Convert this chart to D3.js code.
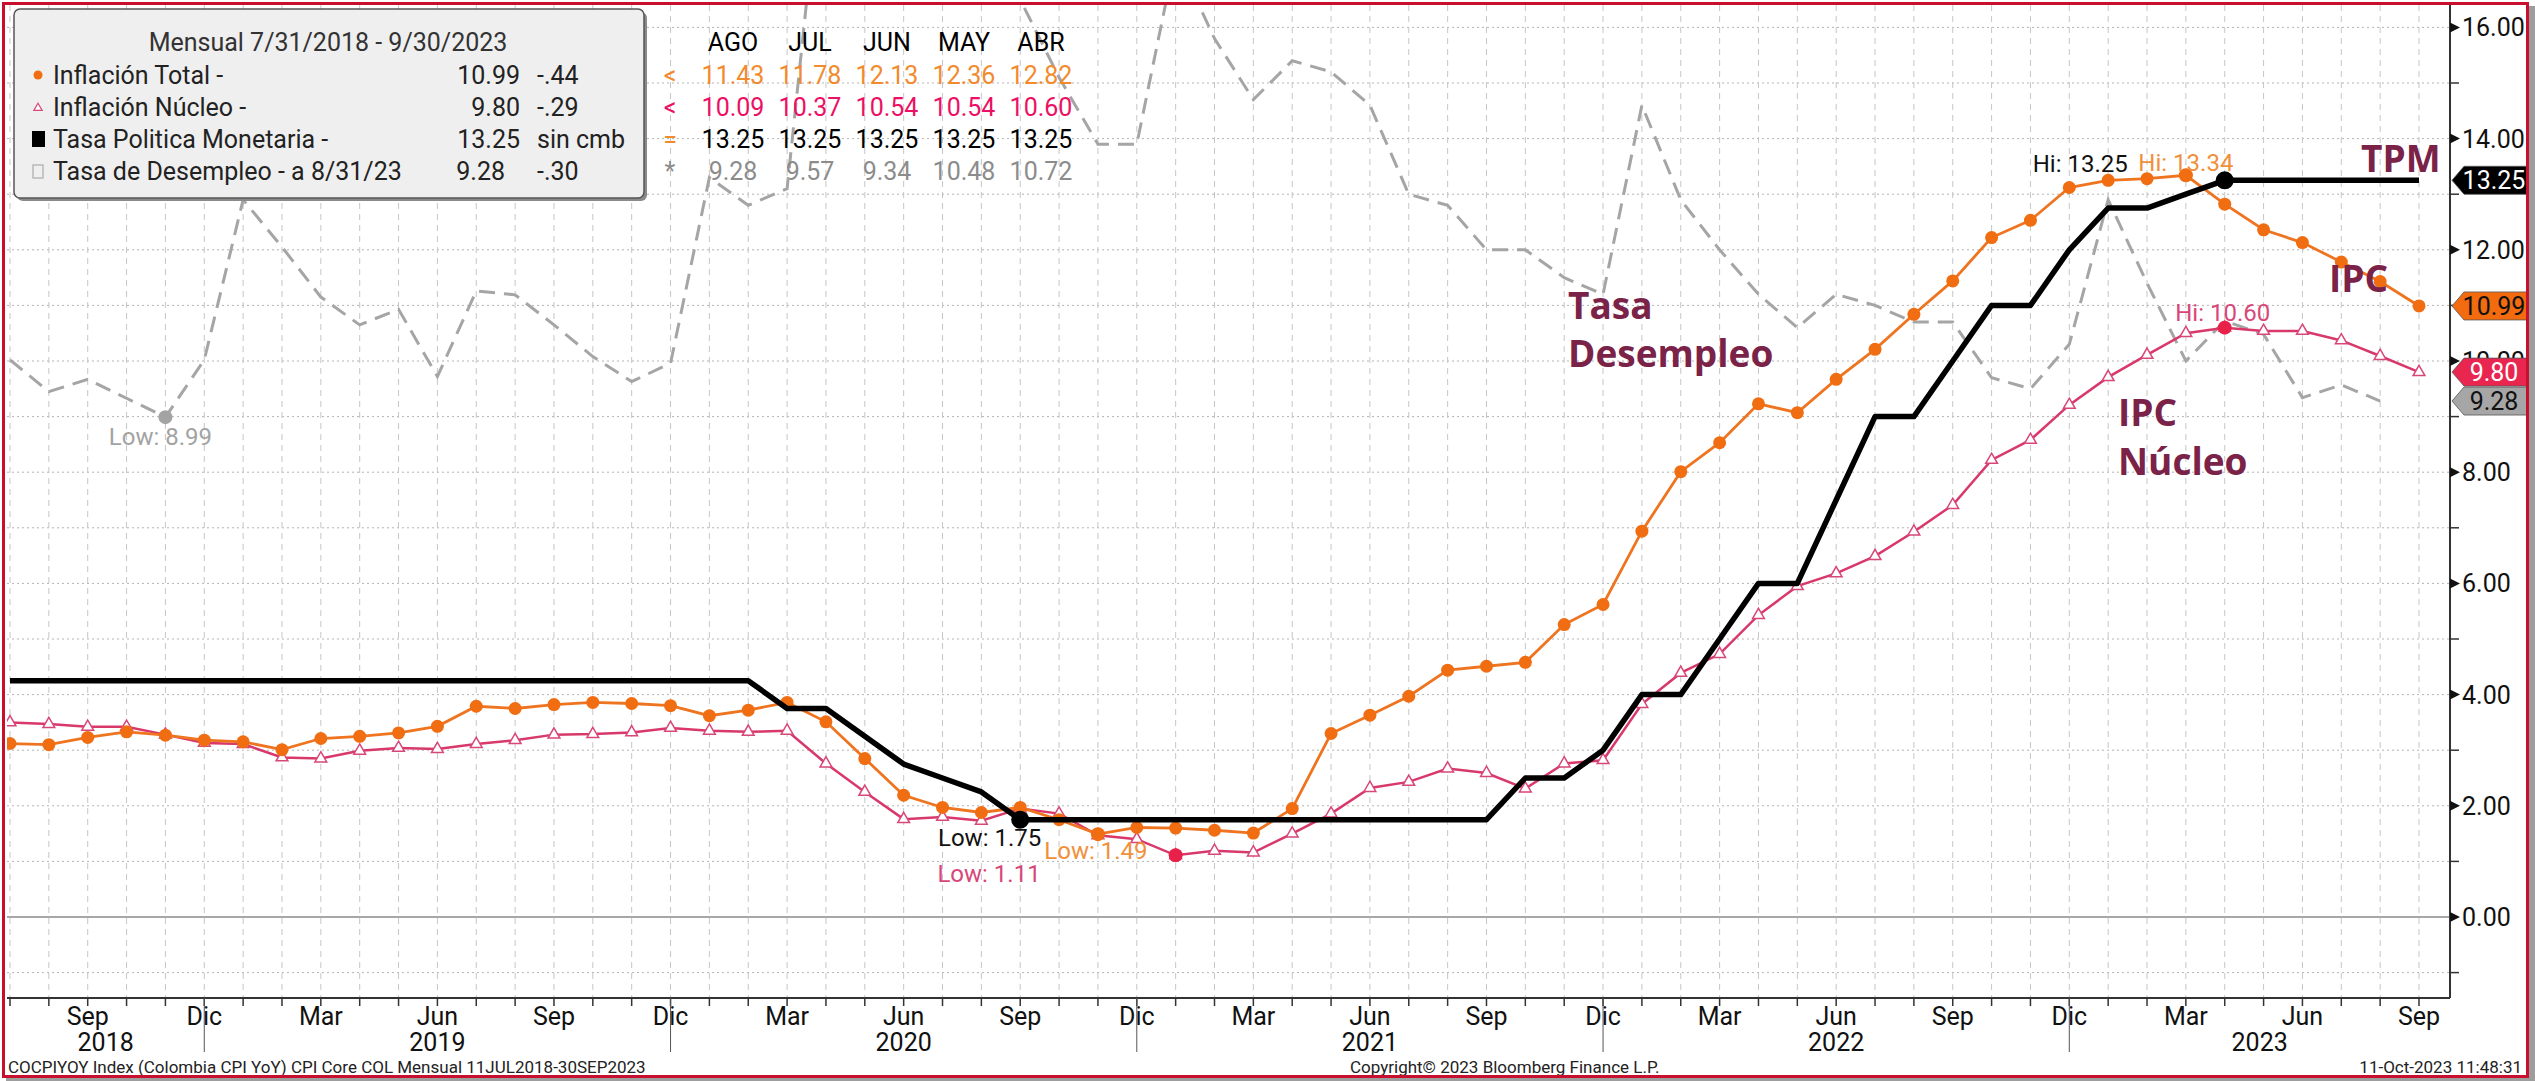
<!DOCTYPE html>
<html lang="es">
<head>
<meta charset="UTF-8" />
<title>Colombia: IPC, IPC núcleo, TPM y desempleo</title>
<script src="https://cdn.jsdelivr.net/npm/d3@7"></script>
<style>
  body { margin: 0; background: #fff; }
  svg { display: block; font-family: Roboto, "Noto Sans", sans-serif; }
  .grid-h { stroke: #b3b3b3; stroke-dasharray: 2,3; }
  .grid-v { stroke: #c6c6c6; stroke-dasharray: 6,5; }
  .lbl { font-size: 25px; }
  .note { font-family: "Open Sans", sans-serif; font-weight: 700; font-size: 37px; fill: #7a2247; }
  .hilo { font-size: 24px; }
  .foot { font-size: 17px; fill: #222; }
</style>
</head>
<body>
<script>
// meses (fin de mes)
const months = [
  "2018-07","2018-08","2018-09","2018-10","2018-11","2018-12",
  "2019-01","2019-02","2019-03","2019-04","2019-05","2019-06","2019-07","2019-08","2019-09","2019-10","2019-11","2019-12",
  "2020-01","2020-02","2020-03","2020-04","2020-05","2020-06","2020-07","2020-08","2020-09","2020-10","2020-11","2020-12",
  "2021-01","2021-02","2021-03","2021-04","2021-05","2021-06","2021-07","2021-08","2021-09","2021-10","2021-11","2021-12",
  "2022-01","2022-02","2022-03","2022-04","2022-05","2022-06","2022-07","2022-08","2022-09","2022-10","2022-11","2022-12",
  "2023-01","2023-02","2023-03","2023-04","2023-05","2023-06","2023-07","2023-08","2023-09"
];

const ipcTotal = [3.12,3.10,3.23,3.33,3.27,3.18,
  3.15,3.01,3.21,3.25,3.31,3.43,3.79,3.75,3.82,3.86,3.84,3.80,
  3.62,3.72,3.86,3.51,2.85,2.19,1.97,1.88,1.97,1.75,1.49,1.61,
  1.60,1.56,1.51,1.95,3.30,3.63,3.97,4.44,4.51,4.58,5.26,5.62,
  6.94,8.01,8.53,9.23,9.07,9.67,10.21,10.84,11.44,12.22,12.53,13.12,
  13.25,13.28,13.34,12.82,12.36,12.13,11.78,11.43,10.99];

const ipcNucleo = [3.50,3.47,3.42,3.42,3.28,3.13,
  3.11,2.87,2.85,2.99,3.04,3.02,3.11,3.18,3.28,3.29,3.32,3.40,
  3.35,3.33,3.35,2.76,2.25,1.76,1.80,1.73,1.95,1.86,1.47,1.40,
  1.11,1.19,1.16,1.50,1.86,2.32,2.43,2.67,2.59,2.31,2.76,2.82,
  3.83,4.39,4.73,5.43,5.95,6.18,6.49,6.93,7.41,8.22,8.58,9.21,
  9.71,10.11,10.50,10.60,10.54,10.54,10.37,10.09,9.80];

const tpm = [4.25,4.25,4.25,4.25,4.25,4.25,
  4.25,4.25,4.25,4.25,4.25,4.25,4.25,4.25,4.25,4.25,4.25,4.25,
  4.25,4.25,3.75,3.75,3.25,2.75,2.50,2.25,1.75,1.75,1.75,1.75,
  1.75,1.75,1.75,1.75,1.75,1.75,1.75,1.75,1.75,2.50,2.50,3.00,
  4.00,4.00,5.00,6.00,6.00,7.50,9.00,9.00,10.00,11.00,11.00,12.00,
  12.75,12.75,13.00,13.25,13.25,13.25,13.25,13.25,13.25];

// desempleo: dato hasta agosto 2023
const desempleo = [10.02,9.45,9.67,9.33,8.99,10.02,
  12.90,12.05,11.15,10.65,10.93,9.72,11.26,11.19,10.65,10.08,9.63,9.96,
  13.30,12.80,13.10,19.80,21.40,19.80,20.20,17.50,16.50,15.10,13.90,13.90,
  17.30,15.80,14.70,15.40,15.20,14.60,13.00,12.80,12.00,12.00,11.50,11.20,
  14.60,12.90,12.00,11.20,10.60,11.20,11.00,10.70,10.70,9.70,9.50,10.30,
  12.90,11.40,10.00,10.72,10.48,9.34,9.57,9.28];

const monthNames = ["Ene","Feb","Mar","Abr","May","Jun","Jul","Ago","Sep","Oct","Nov","Dic"];
const years = ["2018","2019","2020","2021","2022","2023"];
const yTicks = [0, 2, 4, 6, 8, 10, 12, 14, 16];

const legendTitle = "Mensual 7/31/2018 - 9/30/2023";
const legendNames = ["Inflación Total -", "Inflación Núcleo -", "Tasa Politica Monetaria -", "Tasa de Desempleo - a 8/31/23"];
const legendChange = ["-.44", "-.29", "sin cmb", "-.30"];
const tableHeaders = ["AGO", "JUL", "JUN", "MAY", "ABR"];
const tableSigns = ["<", "<", "=", "*"];

const W = 2535, H = 1081;
const plot = { left: 7, right: 2450, top: 5, bottom: 998 };

const x = d3.scaleLinear().domain([0, months.length - 1]).range([10, 2419]);
const y = d3.scaleLinear().domain([0, 16]).range([917, 27.4]);
const fmt = d3.format(".2f");

const svg = d3.select("body").append("svg").attr("width", W).attr("height", H);

// sombra del marco
svg.append("rect").attr("x", 2529).attr("y", 6).attr("width", 6).attr("height", H - 6).attr("fill", "#9d9d9d");
svg.append("rect").attr("x", 6).attr("y", 1078).attr("width", W - 6).attr("height", 3).attr("fill", "#9d9d9d");

svg.append("defs").append("clipPath").attr("id", "plot-clip")
  .append("rect")
  .attr("x", plot.left).attr("y", plot.top)
  .attr("width", plot.right - plot.left).attr("height", plot.bottom - plot.top);

// grilla
const grid = svg.append("g");
grid.selectAll(".grid-h")
  .data(d3.range(-1, 17).filter((v) => v !== 0))
  .join("line")
  .attr("class", "grid-h")
  .attr("x1", plot.left).attr("x2", plot.right)
  .attr("y1", (d) => y(d)).attr("y2", (d) => y(d));
grid.selectAll(".grid-v")
  .data(d3.range(months.length))
  .join("line")
  .attr("class", "grid-v")
  .attr("x1", (d) => x(d)).attr("x2", (d) => x(d))
  .attr("y1", plot.top).attr("y2", plot.bottom);
grid.append("line")
  .attr("x1", plot.left).attr("x2", plot.right)
  .attr("y1", y(0)).attr("y2", y(0))
  .attr("stroke", "#8a8a8a").attr("stroke-width", 1.5);

// series
const line = d3.line().x((d, i) => x(i)).y((d) => y(d));
const series = svg.append("g").attr("clip-path", "url(#plot-clip)");

series.append("path").datum(desempleo)
  .attr("d", line).attr("fill", "none")
  .attr("stroke", "#a5a5a5").attr("stroke-width", 3)
  .attr("stroke-dasharray", "16,9");

series.append("path").datum(ipcNucleo)
  .attr("d", line).attr("fill", "none")
  .attr("stroke", "#d8386a").attr("stroke-width", 2.5);
series.selectAll(".tri").data(ipcNucleo).join("path")
  .attr("class", "tri")
  .attr("transform", (d, i) => `translate(${x(i)},${y(d)})`)
  .attr("d", d3.symbol(d3.symbolTriangle).size(60))
  .attr("fill", "#fff").attr("stroke", "#d8477a").attr("stroke-width", 1.5);

series.append("path").datum(ipcTotal)
  .attr("d", line).attr("fill", "none")
  .attr("stroke", "#ef7420").attr("stroke-width", 2.8);
series.selectAll(".dot").data(ipcTotal).join("circle")
  .attr("class", "dot")
  .attr("cx", (d, i) => x(i)).attr("cy", (d) => y(d)).attr("r", 6.5)
  .attr("fill", "#f06d12");

series.append("path").datum(tpm)
  .attr("d", line).attr("fill", "none")
  .attr("stroke", "#000").attr("stroke-width", 5.5)
  .attr("stroke-linejoin", "round");

// máximos y mínimos
const hiLo = [
  { data: desempleo, kind: "Low", color: "#a3a3a3", dot: "#a3a3a3", anchor: "middle", dx: -5, dy: 28 },
  { data: tpm, kind: "Low", color: "#111", dot: "#000", anchor: "end", dx: 21, dy: 26 },
  { data: ipcTotal, kind: "Low", color: "#f0903a", dot: "#f06d12", anchor: "middle", dx: -2, dy: 25 },
  { data: ipcNucleo, kind: "Low", color: "#d8477a", dot: "#e8214a", anchor: "end", dx: -135, dy: 27 },
  { data: tpm, kind: "Hi", color: "#111", dot: "#000", anchor: "end", dx: -97, dy: -8 },
  { data: ipcTotal, kind: "Hi", color: "#f0903a", dot: "#f06d12", anchor: "middle", dx: 0, dy: -4 },
  { data: ipcNucleo, kind: "Hi", color: "#d8477a", dot: "#e8214a", anchor: "middle", dx: -2, dy: -7 }
];
hiLo.forEach((h) => {
  const i = h.kind === "Hi" ? d3.maxIndex(h.data) : d3.minIndex(h.data);
  const v = h.data[i];
  svg.append("circle")
    .attr("cx", x(i)).attr("cy", y(v))
    .attr("r", h.data === tpm ? 9 : 7)
    .attr("fill", h.dot);
  svg.append("text")
    .attr("class", "hilo")
    .attr("x", x(i) + h.dx).attr("y", y(v) + h.dy)
    .attr("text-anchor", h.anchor)
    .attr("fill", h.color)
    .text(`${h.kind}: ${fmt(v)}`);
});

// notas
const notes = [
  { t: "TPM", x: 2361, y: 172 },
  { t: "IPC", x: 2329, y: 292 },
  { t: "Tasa", x: 1568, y: 319 },
  { t: "Desempleo", x: 1568, y: 367 },
  { t: "IPC", x: 2118, y: 426 },
  { t: "Núcleo", x: 2118, y: 475 }
];
svg.selectAll(".note").data(notes).join("text")
  .attr("class", "note")
  .attr("x", (d) => d.x).attr("y", (d) => d.y)
  .text((d) => d.t);

// eje derecho
svg.append("line")
  .attr("x1", plot.right).attr("x2", plot.right)
  .attr("y1", plot.top).attr("y2", plot.bottom)
  .attr("stroke", "#333").attr("stroke-width", 2);
const yAxis = svg.append("g");
yAxis.selectAll(".arrow").data(yTicks).join("path")
  .attr("class", "arrow")
  .attr("d", (d) => `M${plot.right},${y(d) - 5}L${plot.right + 10},${y(d)}L${plot.right},${y(d) + 5}Z`)
  .attr("fill", "#111");
yAxis.selectAll(".minor").data(d3.range(-1, 17, 2)).join("line")
  .attr("class", "minor")
  .attr("x1", plot.right).attr("x2", plot.right + 9)
  .attr("y1", (d) => y(d)).attr("y2", (d) => y(d))
  .attr("stroke", "#333").attr("stroke-width", 1.5);
yAxis.selectAll(".lbl").data(yTicks).join("text")
  .attr("class", "lbl")
  .attr("x", plot.right + 12).attr("y", (d) => y(d) + 9)
  .attr("fill", "#111")
  .text((d) => fmt(d));

// etiquetas de último valor
const tags = [
  { v: tpm[tpm.length - 1], fill: "#000", text: "#fff" },
  { v: ipcTotal[ipcTotal.length - 1], fill: "#f26b0f", text: "#111" },
  { v: ipcNucleo[ipcNucleo.length - 1], fill: "#e8264f", text: "#fff" },
  { v: desempleo[desempleo.length - 1], fill: "#a6a6a6", text: "#111" }
];
tags.forEach((t) => {
  const cy = y(t.v);
  svg.append("path")
    .attr("d", `M${plot.right + 2},${cy}L${plot.right + 14},${cy - 14}L2527,${cy - 14}L2527,${cy + 14}L${plot.right + 14},${cy + 14}Z`)
    .attr("fill", t.fill).attr("stroke", "#555").attr("stroke-width", 0.8);
  svg.append("text")
    .attr("class", "lbl")
    .attr("x", 2494).attr("y", cy + 9)
    .attr("text-anchor", "middle")
    .attr("fill", t.text)
    .text(fmt(t.v));
});

// eje inferior
svg.append("line")
  .attr("x1", plot.left).attr("x2", plot.right)
  .attr("y1", plot.bottom).attr("y2", plot.bottom)
  .attr("stroke", "#333").attr("stroke-width", 2);
const xAxis = svg.append("g");
xAxis.selectAll(".tick").data(d3.range(months.length)).join("line")
  .attr("class", "tick")
  .attr("x1", (d) => x(d)).attr("x2", (d) => x(d))
  .attr("y1", plot.bottom).attr("y2", plot.bottom + 8)
  .attr("stroke", "#333").attr("stroke-width", 1.5);
const quarterIdx = d3.range(months.length).filter((i) => +months[i].slice(5) % 3 === 0);
xAxis.selectAll(".mlbl").data(quarterIdx).join("text")
  .attr("class", "lbl mlbl")
  .attr("x", (d) => x(d)).attr("y", 1025)
  .attr("text-anchor", "middle")
  .attr("fill", "#111")
  .text((d) => monthNames[+months[d].slice(5) - 1]);
const decIdx = d3.range(months.length).filter((i) => months[i].slice(5) === "12");
xAxis.selectAll(".ydiv").data(decIdx).join("line")
  .attr("class", "ydiv")
  .attr("x1", (d) => x(d)).attr("x2", (d) => x(d))
  .attr("y1", plot.bottom).attr("y2", 1052)
  .attr("stroke", "#555").attr("stroke-width", 1);
xAxis.selectAll(".ylbl").data(years).join("text")
  .attr("class", "lbl ylbl")
  .attr("x", (yr) => {
    const idx = d3.range(months.length).filter((i) => months[i].startsWith(yr));
    const a = idx[0] === 0 ? plot.left : x(idx[0] - 1);
    const b = months[idx[idx.length - 1]].endsWith("12") ? x(idx[idx.length - 1]) : plot.right;
    return (a + b) / 2;
  })
  .attr("y", 1051)
  .attr("text-anchor", "middle")
  .attr("fill", "#111")
  .text((d) => d);

// leyenda
const leg = svg.append("g");
leg.append("rect").attr("x", 17).attr("y", 12).attr("width", 630).attr("height", 189).attr("rx", 6).attr("fill", "#8a8a8a");
leg.append("rect").attr("x", 14).attr("y", 9).attr("width", 630).attr("height", 189).attr("rx", 6)
  .attr("fill", "#efefef").attr("stroke", "#555").attr("stroke-width", 1.5);
leg.append("text").attr("class", "lbl").attr("x", 328).attr("y", 51)
  .attr("text-anchor", "middle").attr("fill", "#333").text(legendTitle);

const lastVals = [ipcTotal, ipcNucleo, tpm, desempleo].map((s) => s[s.length - 1]);
const rowY = d3.scalePoint().domain(d3.range(4)).range([75, 171]);
leg.append("circle").attr("cx", 38).attr("cy", rowY(0)).attr("r", 4.5).attr("fill", "#f06d12");
leg.append("path").attr("transform", `translate(38,${rowY(1) + 1})`)
  .attr("d", d3.symbol(d3.symbolTriangle).size(30))
  .attr("fill", "#fff").attr("stroke", "#d8477a").attr("stroke-width", 1.2);
leg.append("rect").attr("x", 32).attr("y", rowY(2) - 8).attr("width", 13).attr("height", 16).attr("fill", "#000");
leg.append("rect").attr("x", 33).attr("y", rowY(3) - 6).attr("width", 10).attr("height", 13)
  .attr("fill", "none").attr("stroke", "#aaa").attr("stroke-width", 1.2);
leg.selectAll(".lname").data(legendNames).join("text")
  .attr("class", "lbl lname")
  .attr("x", 53).attr("y", (d, i) => rowY(i) + 9)
  .attr("fill", "#222")
  .text((d) => d);
leg.selectAll(".lval").data(lastVals).join("text")
  .attr("class", "lbl lval")
  .attr("x", (d, i) => (i === 3 ? 505 : 520)).attr("y", (d, i) => rowY(i) + 9)
  .attr("text-anchor", "end")
  .attr("fill", "#222")
  .text((d) => fmt(d));
leg.selectAll(".lchg").data(legendChange).join("text")
  .attr("class", "lbl lchg")
  .attr("x", 537).attr("y", (d, i) => rowY(i) + 9)
  .attr("fill", "#222")
  .text((d) => d);

// tabla de meses previos
const tableColors = ["#f28a2e", "#ec1064", "#000", "#8c8c8c"];
const signColors = ["#f28a2e", "#ec1064", "#f28a2e", "#8c8c8c"];
const col = d3.scalePoint().domain(tableHeaders).range([733, 1041]);
const table = svg.append("g");
table.selectAll(".th").data(tableHeaders).join("text")
  .attr("class", "lbl th")
  .attr("x", (d) => col(d)).attr("y", 51)
  .attr("text-anchor", "middle")
  .attr("fill", "#000")
  .text((d) => d);
table.selectAll(".sign").data(tableSigns).join("text")
  .attr("class", "lbl sign")
  .attr("x", 670).attr("y", (d, i) => rowY(i) + 9)
  .attr("text-anchor", "middle")
  .attr("fill", (d, i) => signColors[i])
  .text((d) => d);
[ipcTotal, ipcNucleo, tpm, desempleo].forEach((s, r) => {
  const n = s.length;
  const lastIdx = s === desempleo ? n - 1 : n - 2;
  const prev = d3.range(5).map((k) => s[lastIdx - k]);
  table.selectAll(`.tv${r}`).data(prev).join("text")
    .attr("class", `lbl tv${r}`)
    .attr("x", (d, k) => col(tableHeaders[k])).attr("y", rowY(r) + 9)
    .attr("text-anchor", "middle")
    .attr("fill", tableColors[r])
    .text((d) => fmt(d));
});

// pie
svg.append("text").attr("class", "foot").attr("x", 8).attr("y", 1073)
  .text("COCPIYOY Index (Colombia CPI YoY) CPI Core COL  Mensual 11JUL2018-30SEP2023");
svg.append("text").attr("class", "foot").attr("x", 1350).attr("y", 1073)
  .text("Copyright© 2023 Bloomberg Finance L.P.");
svg.append("text").attr("class", "foot").attr("x", 2522).attr("y", 1073)
  .attr("text-anchor", "end").text("11-Oct-2023 11:48:31");

// marco rojo
svg.append("rect").attr("x", 3.5).attr("y", 3.5).attr("width", 2524).attr("height", 1073)
  .attr("fill", "none").attr("stroke", "#c8102e").attr("stroke-width", 3);
</script>
</body>
</html>
